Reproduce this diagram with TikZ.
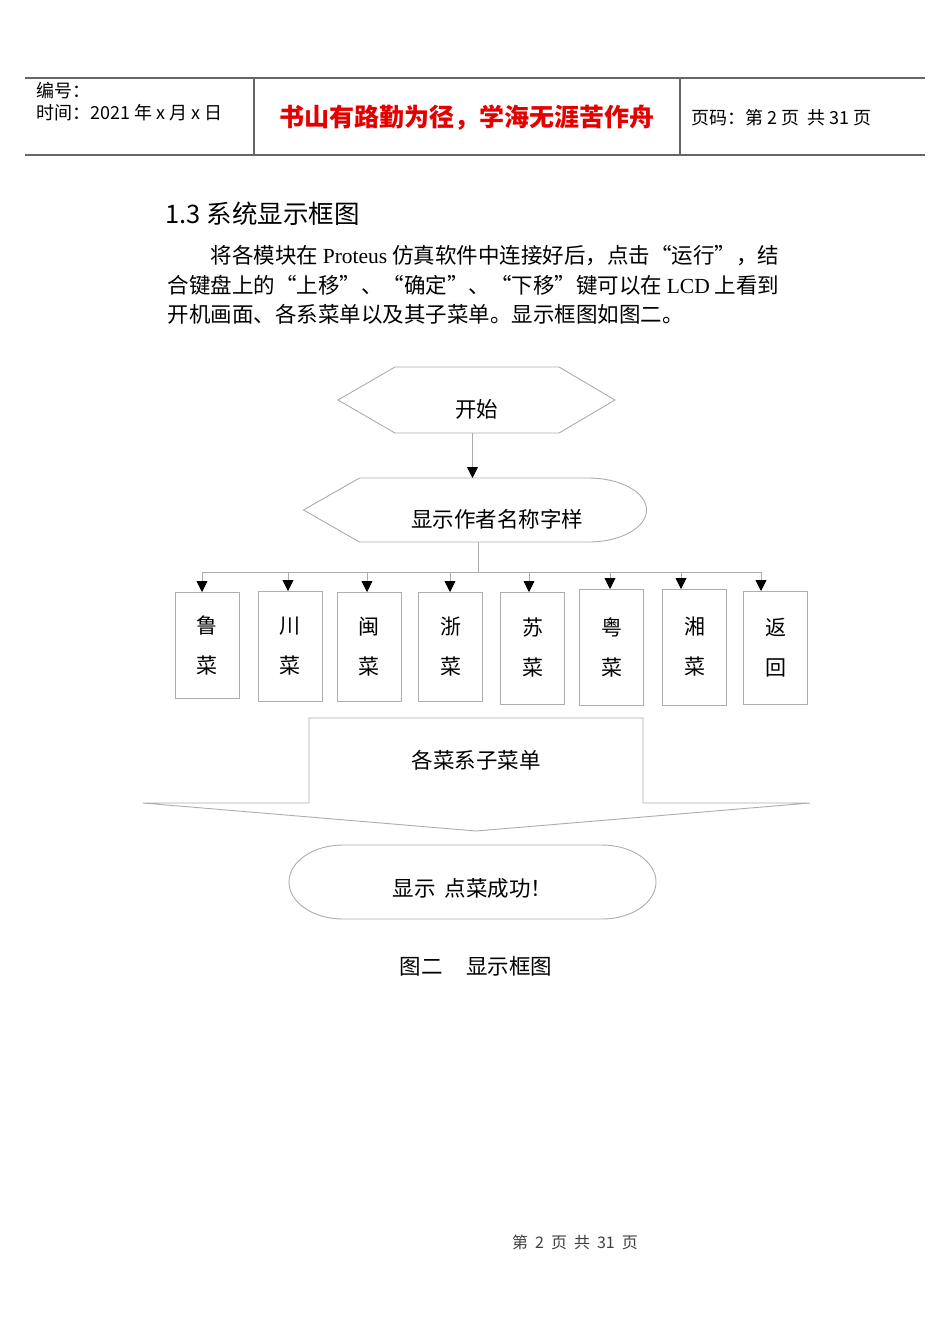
\documentclass[tikz,border=0pt]{standalone}
\usepackage{fontspec}
\setmainfont{Liberation Serif}
\newfontfamily\zh{Noto Sans CJK SC}
\usetikzlibrary{arrows.meta}

\newcommand\latin[1]{{\rmfamily #1}}

\tikzset{
  frame/.style={draw=none, inner sep=0pt, outer sep=0pt},
  outline/.style={draw=black!32, line width=0.9pt, line join=miter},
  link/.style={draw=black!32, line width=0.9pt},
  rule/.style={draw=black!60, line width=1.4pt},
  every dish/.style={frame, draw=black!32, line width=0.9pt, minimum width=64pt,
    align=center, font=\zh\fontsize{21}{40}\selectfont},
  flowtext/.style={font=\zh\fontsize{21.5}{26}\selectfont},
  headtext/.style={anchor=west, font=\zh\fontsize{18}{21}\selectfont},
  bodytext/.style={anchor=west, font=\zh\fontsize{21.5}{26}\selectfont},
}

\begin{document}
\begin{tikzpicture}[x=1pt, y=-1pt, >={Triangle[length=11pt,width=11pt,color=black]}]

\useasboundingbox[fill=white] (0,0) rectangle (950,1342);

% page header
\draw[rule] (25,78) -- (925,78);
\draw[rule] (25,155) -- (925,155);
\draw[rule] (254,78) -- (254,155);
\draw[rule] (680,78) -- (680,155);

\node[headtext] (serial) at (33,91) {编号：};
\node[headtext] (date) at (33,113) {时间：2021 年 x 月 x 日};
\node[font=\zh\bfseries\fontsize{25}{28}\selectfont, text=red!90!black] (motto) at (467,118)
  {书山有路勤为径，学海无涯苦作舟};
\node[headtext] (pageno) at (688,118) {页码：第 2 页\hspace{8pt}共 31 页};

% section text
\node[anchor=west, font=\zh\fontsize{25.5}{29}\selectfont] (section) at (162,214) {1.3 系统显示框图};
\node[bodytext] (intro-1) at (207,256)
  {将各模块在 \latin{Proteus} 仿真软件中连接好后，点击“运行”，结};
\node[bodytext] (intro-2) at (164,285)
  {合键盘上的“上移”、“确定”、“下移”键可以在 \latin{LCD} 上看到};
\node[bodytext] (intro-3) at (164,314)
  {开机画面、各系菜单以及其子菜单。显示框图如图二。};

% start
\node[frame, minimum width=277pt, minimum height=66pt,
  label={[name=start-text, flowtext, yshift=-9pt]center:开始}] (start) at (476.5,400) {};
\draw[outline] (start.west) -- ([xshift=57pt]start.north west) -- ([xshift=-56pt]start.north east)
  -- (start.east) -- ([xshift=-56pt]start.south east) -- ([xshift=57pt]start.south west) -- cycle;

% display author
\node[frame, minimum width=343pt, minimum height=64pt,
  label={[name=disp-text, flowtext, xshift=22pt, yshift=-9pt]center:显示作者名称字样}] (disp) at (475,510) {};
\draw[outline] (disp.west) -- ([xshift=56pt]disp.north west) -- ([xshift=-58pt]disp.north east)
  arc[start angle=90, end angle=-90, x radius=58pt, y radius=32pt]
  -- ([xshift=56pt]disp.south west) -- cycle;

\draw[link, ->] ([xshift=-4pt]start.south) -- ([xshift=-4pt]start.south |- disp.north);

% dish boxes
\foreach \m/\n/\x/\t/\b/\a [count=\i] in {鲁/菜/207/592/698/202, 川/菜/290/591/701/288,
    闽/菜/369/592/701/367, 浙/菜/450.5/592/701/450, 苏/菜/532.5/592/704/529,
    粤/菜/611.5/589/705/610, 湘/菜/694.5/589/705/681, 返/回/775.5/591/704/761}
{
  \node[every dish, minimum height={\b-\t}] (dish-\i) at (\x,{(\t+\b)/2}) {\m\\\n};
  \coordinate (drop-\i) at (\a,572);
  \draw[link, ->] (drop-\i) -- (drop-\i |- dish-\i.north);
}

\draw[link] ([xshift=3pt]disp.south) -- ([xshift=3pt]disp.south |- drop-1);
\draw[link] (drop-1) -- (drop-8);

% sub menus
\node[frame, minimum width=334pt, minimum height=85pt, flowtext] (sub) at (476,760.5) {各菜系子菜单};
\draw[outline] (sub.south west) -- (sub.north west) -- (sub.north east) -- (sub.south east)
  -- ++(167,0) -- ([yshift=-28pt]sub.south) -- ([xshift=-166pt]sub.south west) -- cycle;

% success
\node[frame, minimum width=367pt, minimum height=74pt,
  label={[name=done-text, flowtext, yshift=-6pt]center:显示\hspace{9pt}点菜成功！}] (done) at (472.5,882) {};
\draw[outline] ([xshift=54pt]done.north west) -- ([xshift=-54pt]done.north east)
  arc[start angle=90, end angle=-90, x radius=54pt, y radius=37pt]
  -- ([xshift=54pt]done.south west)
  arc[start angle=-90, end angle=-270, x radius=54pt, y radius=37pt] -- cycle;

\node[flowtext] (caption) at (476,966) {图二\hspace{24pt}显示框图};

% page footer
\node[font=\zh\fontsize{16}{19}\selectfont, text=black!75] (footer) at (575,1242)
  {第\hspace{7pt}2\hspace{7pt}页\hspace{7pt}共\hspace{7pt}31\hspace{7pt}页};

\end{tikzpicture}
\end{document}
